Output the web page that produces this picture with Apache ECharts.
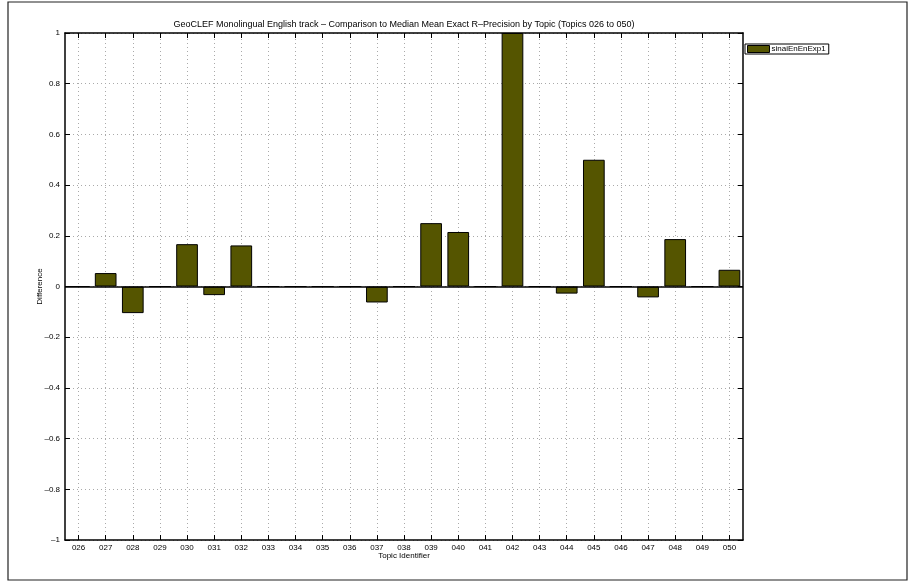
<!DOCTYPE html>
<html>
<head>
<meta charset="utf-8">
<script src="https://cdn.jsdelivr.net/npm/echarts@6/dist/echarts.min.js"></script>
<style>
html,body{margin:0;padding:0;background:#fff;}
#chart{width:912px;height:582px;}
</style>
</head>
<body>
<div id="chart"></div>
<script>
const titleText = 'GeoCLEF Monolingual English track – Comparison to Median Mean Exact R–Precision by Topic (Topics 026 to 050)';
const seriesName = 'sinaiEnEnExp1';
const categories = ['026','027','028','029','030','031','032','033','034','035','036','037','038','039','040','041','042','043','044','045','046','047','048','049','050'];
const values = [0, 0.053, -0.105, 0, 0.167, -0.034, 0.162, 0, 0, 0, 0, -0.063, 0, 0.25, 0.215, 0, 1.0, 0, -0.028, 0.5, 0, -0.043, 0.187, 0, 0.066];
const yMin = -1, yMax = 1, yStep = 0.2;

const FONT = 'Liberation Sans, Arial, Helvetica, sans-serif';
const fmtY = v => { const r = Math.round(v * 10) / 10; return r === 0 ? '0' : String(r).replace('-', '–'); };

const chart = echarts.init(document.getElementById('chart'), null, {renderer: 'canvas'});
const gridLeft = 65, gridRight = 169, gridTop = 33, gridBottom = 42;
const plotCenterX = gridLeft + (912 - gridLeft - gridRight) / 2;

const option = {
  backgroundColor: '#ffffff',
  animation: false,
  textStyle: {fontFamily: FONT},
  graphic: [
    {type: 'rect', shape: {x: 8, y: 2, width: 899, height: 578}, style: {fill: 'none', stroke: '#222', lineWidth: 1.2}, silent: true, z: -1},
    {type: 'text', style: {x: plotCenterX, y: 25, text: titleText, textAlign: 'center', textVerticalAlign: 'middle', font: '9px ' + FONT, fill: '#000'}, silent: true}
  ],
  legend: {
    data: [{name: seriesName, icon: 'rect'}],
    left: 745, top: 44,
    orient: 'vertical',
    backgroundColor: '#fff',
    borderColor: '#000', borderWidth: 1, borderRadius: 0,
    padding: [1, 3, 1, 2],
    itemWidth: 22, itemHeight: 7, itemGap: 0,
    itemStyle: {color: '#555500', borderColor: '#000', borderWidth: 1},
    textStyle: {fontSize: 8, color: '#000', fontFamily: FONT, padding: [0, 0, 0, -3]}
  },
  grid: {left: gridLeft, right: gridRight, top: gridTop, bottom: gridBottom, containLabel: false},
  xAxis: [
    {
      type: 'category', data: categories, position: 'bottom',
      boundaryGap: true,
      axisLine: {show: true, onZero: false, lineStyle: {color: '#000', width: 1.5}},
      axisTick: {show: true, inside: true, alignWithLabel: true, length: 5, lineStyle: {color: '#000'}},
      axisLabel: {color: '#000', fontSize: 8, margin: 4, fontFamily: FONT, interval: 0},
      splitLine: {show: false},
      name: 'Topic Identifier', nameLocation: 'middle', nameGap: 12, nameMoveOverlap: false,
      nameTextStyle: {fontSize: 8, color: '#000', fontFamily: FONT}
    },
    {
      type: 'category', data: categories, position: 'top',
      boundaryGap: true,
      axisLine: {show: true, onZero: false, lineStyle: {color: '#000', width: 1.5}},
      axisTick: {show: true, inside: true, alignWithLabel: true, length: 5, lineStyle: {color: '#000'}},
      axisLabel: {show: false},
      splitLine: {show: false}
    }
  ],
  yAxis: [
    {
      type: 'value', min: yMin, max: yMax, interval: yStep, position: 'left',
      axisLine: {show: true, onZero: false, lineStyle: {color: '#000', width: 1.5}},
      axisTick: {show: true, inside: true, length: 5, lineStyle: {color: '#000'}},
      axisLabel: {color: '#000', fontSize: 8, margin: 5, formatter: fmtY, fontFamily: FONT},
      splitLine: {show: true, lineStyle: {color: '#aaa', type: [1, 3], width: 1}},
      name: 'Difference', nameLocation: 'middle', nameGap: 21, nameMoveOverlap: false,
      nameTextStyle: {fontSize: 8, color: '#000', fontFamily: FONT}
    },
    {
      type: 'value', min: yMin, max: yMax, interval: yStep, position: 'right',
      axisLine: {show: true, onZero: false, lineStyle: {color: '#000', width: 1.5}},
      axisTick: {show: true, inside: true, length: 5, lineStyle: {color: '#000'}},
      axisLabel: {show: false},
      splitLine: {show: false}
    }
  ],
  series: [
    {
      name: 'vgrid',
      type: 'line',
      xAxisIndex: 0, yAxisIndex: 0,
      data: [],
      z: 0,
      silent: true,
      markLine: {
        silent: true, symbol: 'none', animation: false, z: 0,
        label: {show: false},
        data: categories.map(c => ({xAxis: c, lineStyle: {color: '#aaa', type: [1, 3], width: 1}}))
      }
    },
    {
      name: seriesName,
      type: 'bar',
      xAxisIndex: 0, yAxisIndex: 0,
      data: values,
      z: 3,
      barCategoryGap: '20%',
      itemStyle: {color: '#555500', borderColor: '#000', borderWidth: 1},
      emphasis: {disabled: true},
      markLine: {
        silent: true, symbol: 'none', animation: false,
        label: {show: false},
        data: [{yAxis: 0, lineStyle: {color: '#000', type: 'solid', width: 1.5}}]
      }
    }
  ]
};
chart.setOption(option);
</script>
</body>
</html>
